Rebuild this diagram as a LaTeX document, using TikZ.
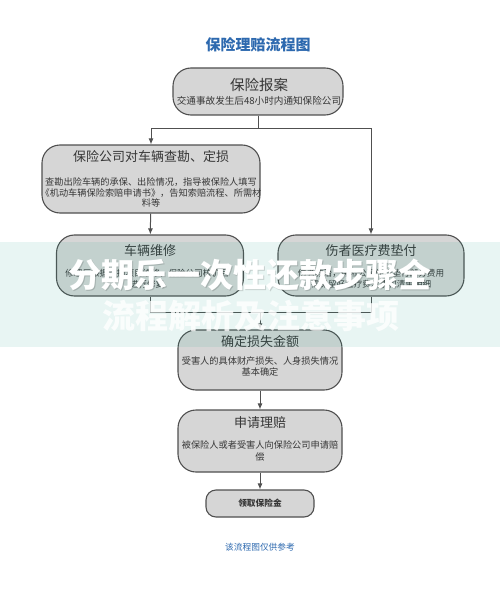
\documentclass[tikz,border=0pt]{standalone}
\usepackage{fontspec}
\setmainfont{Noto Sans CJK SC}
\usetikzlibrary{arrows.meta}
\definecolor{boxfill}{RGB}{214,214,214}
\definecolor{boxline}{RGB}{80,80,80}
\definecolor{txtgray}{RGB}{55,55,55}
\definecolor{titleblue}{RGB}{45,105,175}
\definecolor{bandteal}{RGB}{35,165,145}

\begin{document}
\begin{tikzpicture}[x=1pt,y=1pt,yscale=-1,xscale=1,
  liucheng/.style={draw=boxline, fill=boxfill, line width=1.1pt, rounded corners=18pt, inner sep=0pt},
  biaoti/.style={inner sep=0.75pt, text=txtgray, font=\fontsize{13}{15}\selectfont},
  shuoming/.style={inner sep=0.75pt, text=txtgray, font=\fontsize{9.2}{11.6}\selectfont, align=center},
  jiantou/.style={draw=boxline, line width=1pt, -{Latex[length=6pt,width=5pt]}},
  lianxian/.style={draw=boxline, line width=1pt}]

\useasboundingbox (0,0) rectangle (500,591);
\fill[white] (0,0) rectangle (500,591);

\node (biao) at (258,45) [font=\bfseries\fontsize{15}{17}\selectfont, text=titleblue] {保险理赔流程图};

% boxes
\node (baoan) at (258,91.5) [liucheng, minimum width=170, minimum height=47] {};
\node (chakan) at (151,179) [liucheng, minimum width=218, minimum height=68] {};
\node (weixiu) at (150,265.5) [liucheng, minimum width=187, minimum height=61] {};
\node (yiliao) at (371,265.5) [liucheng, minimum width=186, minimum height=61] {};
\node (sunshi) at (260,360) [liucheng, minimum width=164, minimum height=60] {};
\node (lipei) at (260,441) [liucheng, minimum width=164, minimum height=62] {};
\node (lingqu) at (260,503.5) [liucheng, rounded corners=10pt, minimum width=108, minimum height=27] {};

% texts
\node (baoanT) at (259,85) [biaoti, font=\fontsize{14.5}{16}\selectfont] {保险报案};
\node (baoanS) at (259,101) [shuoming, font=\fontsize{9.6}{11}\selectfont] {交通事故发生后48小时内通知保险公司};
\node (chakanT) at (151,157) [biaoti] {保险公司对车辆查勘、定损};
\node (chakanS) at (151,192.5) [shuoming, font=\fontsize{9.2}{10.6}\selectfont] {查勘出险车辆的承保、出险情况，指导被保险人填写\\《机动车辆保险索赔申请书》，告知索赔流程、所需材\\料等};
\node (weixiuT) at (150,251) [biaoti] {车辆维修};
\node (weixiuS) at (147,278.5) [shuoming, font=\fontsize{8.6}{11}\selectfont] {修理厂根据定损项目维修，保险公司核价后\\进行修复};
\node (yiliaoT) at (371,251) [biaoti] {伤者医疗费垫付};
\node (yiliaoS) at (371,278.5) [shuoming, font=\fontsize{8.6}{11}\selectfont] {伤者救治，保险公司先行垫付部分费用\\需保留好医疗费发票和清单明细};
\node (sunshiT) at (260,342) [biaoti] {确定损失金额};
\node (sunshiS) at (260,366.5) [shuoming] {受害人的具体财产损失、人身损失情况\\基本确定};
\node (lipeiT) at (260,423) [biaoti] {申请理赔};
\node (lipeiS) at (260,451) [shuoming] {被保险人或者受害人向保险公司申请赔\\偿};
\node (lingquT) at (260,503.5) [inner sep=0.75pt, text=txtgray, font=\bfseries\fontsize{8.7}{10}\selectfont] {领取保险金};

\node (zhu) at (260,547) [font=\fontsize{8.7}{10}\selectfont, text=titleblue] {该流程图仅供参考};

% connectors
\coordinate (fen) at (258,128);
\coordinate (he) at (260,312);
\draw [lianxian] (baoan) -- (fen);
\draw [jiantou] (fen) -| (chakan);
\draw [jiantou] (fen) -| (yiliao);
\draw [jiantou] (chakan) -- (weixiu);
\draw [lianxian] (weixiu) |- (he);
\draw [lianxian] (yiliao) |- (he);
\draw [jiantou] (he) -- (sunshi);
\draw [jiantou] (sunshi) -- (lipei);
\draw [jiantou] (lipei) -- (lingqu);

% watermark band
\fill [bandteal, opacity=0.1] (0,242) rectangle (500,347);
\node (shuiyinA) at (251,276.5) [text=black, opacity=0.15, font=\bfseries\fontsize{33}{36}\selectfont] {分期乐一次性还款步骤全};
\node (shuiyinB) at (250,275) [text=white, font=\bfseries\fontsize{33}{36}\selectfont] {分期乐一次性还款步骤全};
\node (shuiyinC) at (251,316) [text=white, opacity=0.8, font=\bfseries\fontsize{33}{36}\selectfont] {流程解析及注意事项};

\end{tikzpicture}
\end{document}
